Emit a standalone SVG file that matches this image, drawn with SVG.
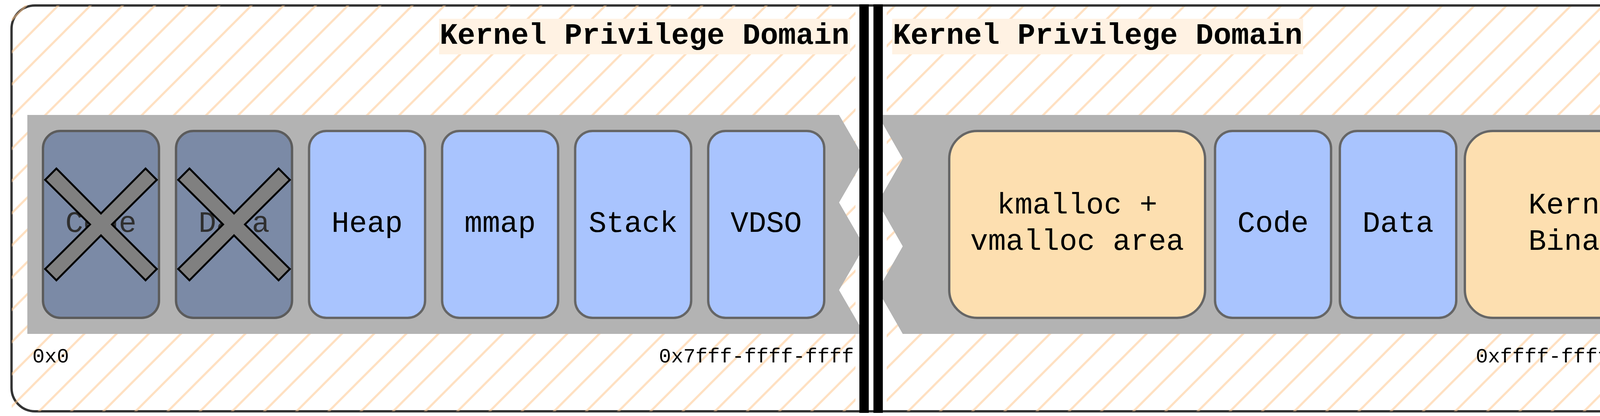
<svg xmlns="http://www.w3.org/2000/svg" width="4452" height="1064" viewBox="0 0 4452 1064">
<style>
  .title { font-family: "Courier New", Courier, "Nimbus Mono PS", FreeMono, "Liberation Mono", monospace; font-weight: bold; font-size: 76px; fill: #000; text-anchor: middle; }
  .titlebg { fill: #fff2e3; }
  .band { fill: #b3b3b3; }
  .node { stroke: #666666; stroke-width: 6; }
  .blue { fill: #a9c4fe; }
  .orange { fill: #fddfb0; }
  .dead { fill: #7b8aa6; stroke: #5c5c5c; stroke-width: 6; }
  .lbl { font-family: "Courier New", Courier, "Nimbus Mono PS", FreeMono, "Liberation Mono", monospace; font-size: 76px; fill: #000; text-anchor: middle; }
  .deadlbl { fill: #2f2f2f; }
  .addr { font-family: "Courier New", Courier, "Nimbus Mono PS", FreeMono, "Liberation Mono", monospace; font-size: 52px; fill: #000; }
  .cross { fill: #808080; stroke: #000; stroke-width: 5; stroke-linejoin: miter; }
  .bar { fill: #000; }
</style>
<defs>
  <pattern id="hatch" patternUnits="userSpaceOnUse" x="0" y="80.8" width="82.4" height="82.4">
    <path d="M-10,92.4 L92.4,-10 M-10,10 L10,-10 M72.4,92.4 L92.4,72.4" stroke="#ffc68e" stroke-opacity="0.55" stroke-width="5.5" fill="none"/>
  </pattern>
  <polygon id="xmark" points="-114.1,-142.9 0,-28 114.1,-142.9 142.9,-114.1 28,0 142.9,114.1 114.1,142.9 0,28 -114.1,142.9 -142.9,114.1 -28,0 -142.9,-114.1"/>
</defs>

<rect x="0" y="0" width="4452" height="1064" fill="#ffffff"/>

<g id="frame">
  <rect x="29.5" y="14" width="4398" height="1038" rx="60" ry="60" fill="#ffffff" stroke="#333333" stroke-width="6"/>
  <rect x="30" y="14" width="2160" height="1038" fill="url(#hatch)"/>
  <rect x="2270" y="17" width="2156" height="1035" fill="url(#hatch)"/>
</g>

<g id="user-domain-label">
  <rect class="titlebg" x="1124" y="48" width="1052" height="91"/>
  <text class="title" x="1650" y="112">Kernel Privilege Domain</text>
</g>
<g id="kernel-domain-label">
  <rect class="titlebg" x="2284" y="48" width="1052" height="91"/>
  <text class="title" x="2810" y="112">Kernel Privilege Domain</text>
</g>

<g id="user-band">
  <polygon class="band" points="70,294 2148,294 2213,406 2148,518 2213,630 2148,742 2213,854 70,854"/>
</g>
<g id="kernel-band">
  <polygon class="band" points="2247,294 4390,294 4390,854 2311,854 2247,742 2311,630 2247,518 2311,406"/>
</g>

<g id="node-user-code">
  <rect class="dead" x="110" y="335" width="297" height="478" rx="44.6" ry="44.6"/>
  <text class="lbl deadlbl" x="258.5" y="592.7">Code</text>
  <use href="#xmark" class="cross" x="258.5" y="574"/>
</g>
<g id="node-user-data">
  <rect class="dead" x="450.6" y="335" width="297" height="478" rx="44.6" ry="44.6"/>
  <text class="lbl deadlbl" x="599.1" y="592.7">Data</text>
  <use href="#xmark" class="cross" x="599.1" y="574"/>
</g>
<g id="node-heap">
  <rect class="node blue" x="791.2" y="335" width="297" height="478" rx="44.6" ry="44.6"/>
  <text class="lbl" x="939.7" y="592.7">Heap</text>
</g>
<g id="node-mmap">
  <rect class="node blue" x="1131.8" y="335" width="297" height="478" rx="44.6" ry="44.6"/>
  <text class="lbl" x="1280.3" y="592.7">mmap</text>
</g>
<g id="node-stack">
  <rect class="node blue" x="1472.4" y="335" width="297" height="478" rx="44.6" ry="44.6"/>
  <text class="lbl" x="1620.9" y="592.7">Stack</text>
</g>
<g id="node-vdso">
  <rect class="node blue" x="1813" y="335" width="297" height="478" rx="44.6" ry="44.6"/>
  <text class="lbl" x="1961.5" y="592.7">VDSO</text>
</g>

<g id="node-kmalloc-vmalloc">
  <rect class="node orange" x="2430" y="335" width="655" height="478" rx="71.7" ry="71.7"/>
  <text class="lbl" x="2757.5" y="546.3">kmalloc +</text>
  <text class="lbl" x="2757.5" y="639.2">vmalloc area</text>
</g>
<g id="node-kernel-code">
  <rect class="node blue" x="3110.5" y="335" width="297" height="478" rx="44.6" ry="44.6"/>
  <text class="lbl" x="3259" y="592.7">Code</text>
</g>
<g id="node-kernel-data">
  <rect class="node blue" x="3430" y="335" width="298" height="478" rx="44.6" ry="44.6"/>
  <text class="lbl" x="3579" y="592.7">Data</text>
</g>
<g id="node-kernel-binary">
  <rect class="node orange" x="3750" y="335" width="599" height="478" rx="71.7" ry="71.7"/>
  <text class="lbl" x="4049.5" y="546.3">Kernel</text>
  <text class="lbl" x="4049.5" y="639.2">Binary</text>
</g>

<g id="addresses">
  <text class="addr" x="83" y="927">0x0</text>
  <text class="addr" x="2186" y="927" text-anchor="end">0x7fff-ffff-ffff</text>
  <text class="addr" x="4402" y="927" text-anchor="end">0xffff-ffff-...-ffff</text>
</g>

<g id="divider">
  <rect class="bar" x="2200" y="11" width="24" height="1045"/>
  <rect class="bar" x="2236" y="11" width="24" height="1045"/>
</g>

<g id="connectors"></g>
</svg>
